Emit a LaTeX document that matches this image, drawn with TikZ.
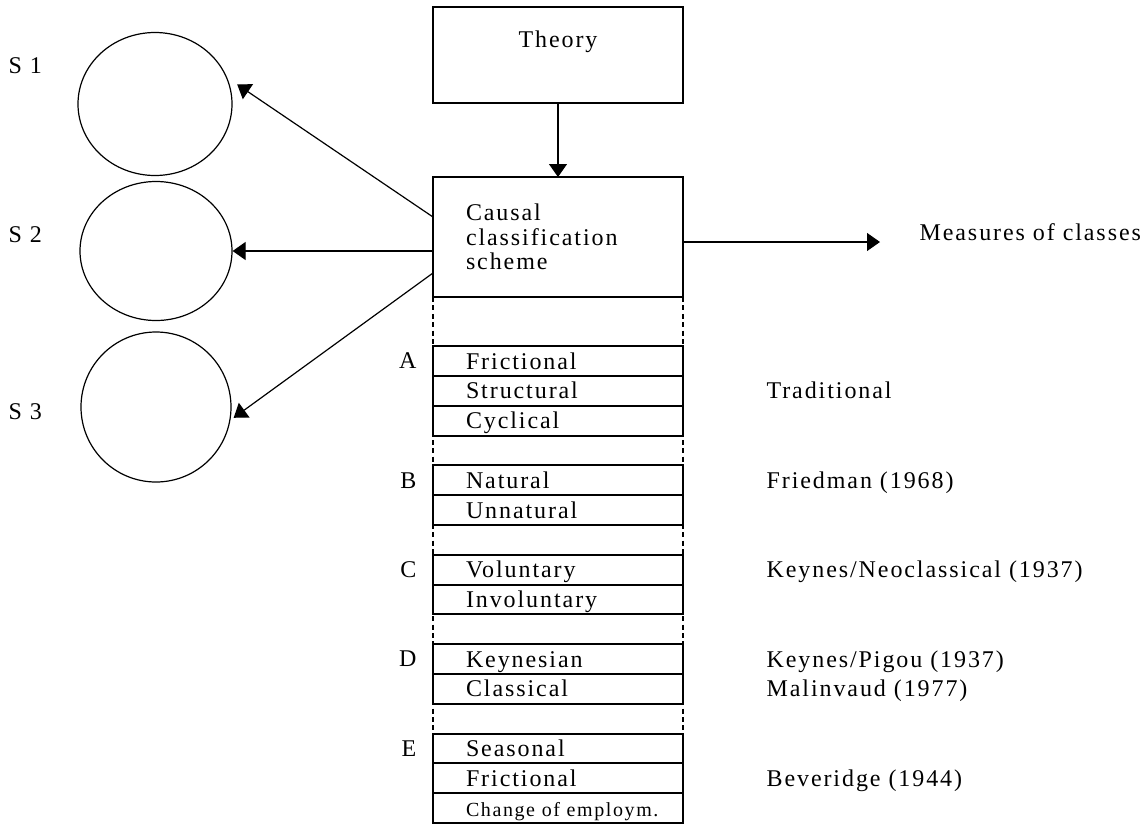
\documentclass[tikz,border=0pt]{standalone}
\usepackage{fontspec}
\setmainfont[LetterSpace=8]{Liberation Serif}
\usetikzlibrary{positioning,arrows.meta,shapes.geometric}

\begin{document}
\begin{tikzpicture}[x=0.5pt,y=-0.5pt,>={Triangle[length=6.5pt,width=9pt]},line width=0.6pt,
		font=\fontsize{12}{12.25}\selectfont,
		box/.style={draw,rectangle,line width=1pt,minimum width=125pt,inner sep=0pt,outer sep=0pt},
		row/.style={box,minimum height=14.9pt,text width=92pt,inner xsep=16.5pt,align=left,text height=11.5pt,text depth=3.4pt},
		sset/.style={draw,ellipse,inner sep=0pt},
		tag/.style={inner sep=0pt},
		note/.style={anchor=west,inner sep=0pt,text height=9pt,text depth=1pt},
		guide/.style={dash pattern=on 2.5pt off 1.7pt}]
			\useasboundingbox (0,0) rectangle (1145,825);
	
			\node[box,text height=20pt,text depth=28pt] (theory) at (558,55) {Theory};
			\node[box,minimum height=60pt,text width=92pt,inner xsep=16.5pt,align=left] (causal) at (558,237) {Causal\\classification\\scheme};
			\coordinate (mtip) at (880,242);
			\node[tag,anchor=base west] (meas) at (919,240) {Measures of classes};
	
			% sets
			\node[sset,minimum width=77pt,minimum height=71.5pt] (s1) at (155,104) {};
			\node[sset,minimum width=76pt,minimum height=69.5pt] (s2) at (156,251) {};
			\node[sset,minimum width=75pt,minimum height=75pt] (s3) at (156,407) {};
			\node[tag,anchor=base west] (ls1) at (8,73) {S\hspace{4pt}1};
			\node[tag,anchor=base west] (ls2) at (8,242) {S\hspace{4pt}2};
			\node[tag,anchor=base west] (ls3) at (8,419) {S\hspace{4pt}3};
	
			% classes
			\node[row] (a1) at (558,361) {Frictional};
			\node[row] (a2) [below=0pt of a1] {Structural};
			\node[row] (a3) [below=0pt of a2] {Cyclical};
			\node[row] (b1) [below=14.9pt of a3] {Natural};
			\node[row] (b2) [below=0pt of b1] {Unnatural};
			\node[row] (c1) [below=14.9pt of b2] {Voluntary};
			\node[row] (c2) [below=0pt of c1] {Involuntary};
			\node[row] (d1) [below=14.9pt of c2] {Keynesian};
			\node[row] (d2) [below=0pt of d1] {Classical};
			\node[row] (e1) [below=14.9pt of d2] {Seasonal};
			\node[row] (e2) [below=0pt of e1] {Frictional};
			\node[row,font=\fontsize{10}{12}\selectfont] (e3) [below=0pt of e2] {\mbox{Change of employm.}};
	
			\node[tag] (la) [left=8pt of a1] {A};
			\node[tag] (lb) [left=8pt of b1] {B};
			\node[tag] (lc) [left=8pt of c1] {C};
			\node[tag] (ld) [left=8pt of d1] {D};
			\node[tag] (le) [left=8pt of e1] {E};
	
			\node[note] (trad) [right=41.5pt of a2] {Traditional};
			\node[note] (fried) [right=41.5pt of b1] {Friedman (1968)};
			\node[note] (neo) [right=41.5pt of c1] {Keynes/Neoclassical (1937)};
			\node[note] (pigou) [right=41.5pt of d1] {Keynes/Pigou (1937)};
			\node[note] (malin) [right=41.5pt of d2] {Malinvaud (1977)};
			\node[note] (bev) [right=41.5pt of e2] {Beveridge (1944)};
	
			\draw[guide] (causal.south west) -- (e3.south west)
					(causal.south east) -- (e3.south east);
	
			\draw[->] (theory) -- (causal);
			\draw[->] ([yshift=-2.5pt]causal.east) -- (mtip);
			\draw[->,shorten >=6pt] ([yshift=10pt]causal.west) -- (s1.20);
			\draw[->] ([yshift=-7pt]causal.west) -- (s2.east);
			\draw[->,shorten >=2pt] ([yshift=-18pt]causal.west) -- (s3.-10);
			\end{tikzpicture}
\end{document}
